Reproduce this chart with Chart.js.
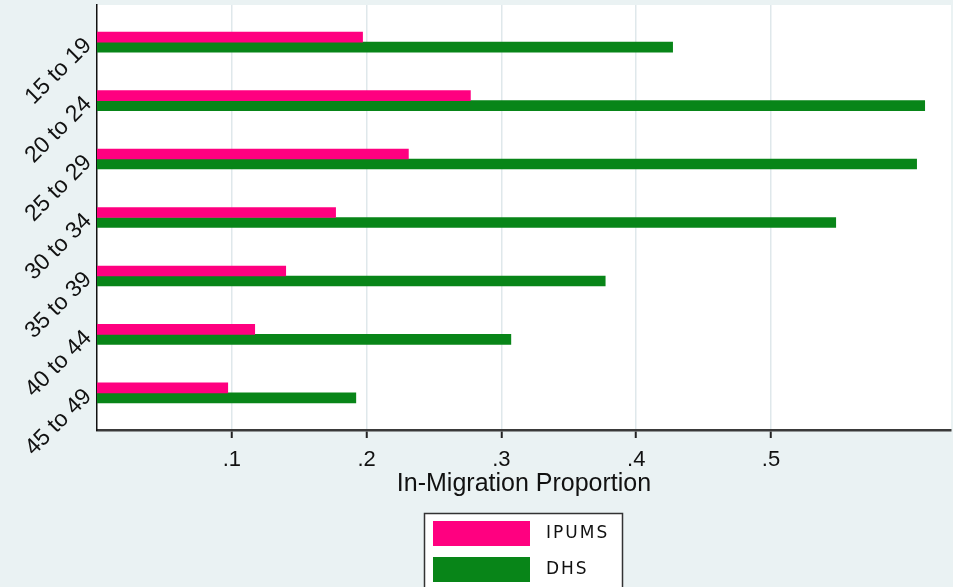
<!DOCTYPE html>
<html>
<head>
<meta charset="utf-8">
<script src="https://cdn.jsdelivr.net/npm/chart.js@4/dist/chart.umd.min.js"></script>
<style>
  html, body { margin: 0; padding: 0; background: #eaf2f3; }
  #wrap { width: 953px; height: 587px; }
</style>
</head>
<body>
<div id="wrap"><canvas id="c" width="953" height="587"></canvas></div>
<script>
// Age groups (top to bottom)
const ageGroups = ['15 to 19', '20 to 24', '25 to 29', '30 to 34', '35 to 39', '40 to 44', '45 to 49'];
// In-migration proportion by source
const ipums = [0.197, 0.277, 0.231, 0.177, 0.140, 0.117, 0.097];
const dhs   = [0.427, 0.614, 0.608, 0.548, 0.377, 0.307, 0.192];
// Axis ticks
const xTicks = [0.1, 0.2, 0.3, 0.4, 0.5];
const xTickLabels = ['.1', '.2', '.3', '.4', '.5'];

const BG = '#eaf2f3';
const PINK = '#ff0080';
const GREEN = '#088518';

const toPoints = vals => vals.map((v, i) => ({ x: v, y: i }));

// Page background and white plot region
const backdrop = {
  id: 'backdrop',
  beforeDraw(chart) {
    const { ctx, chartArea: a } = chart;
    ctx.save();
    ctx.fillStyle = BG;
    ctx.fillRect(0, 0, chart.width, chart.height);
    ctx.fillStyle = '#ffffff';
    ctx.fillRect(a.left, a.top, a.right - a.left, a.bottom - a.top);
    ctx.restore();
  }
};

// Boxed legend below the axis title, one row per series
const boxLegend = {
  id: 'boxLegend',
  afterDraw(chart) {
    const { ctx } = chart;
    const bx = 424.5, by = 513.5, bw = 198, bh = 90;
    ctx.save();
    ctx.fillStyle = '#ffffff';
    ctx.fillRect(bx, by, bw, bh);
    ctx.strokeStyle = '#333333';
    ctx.lineWidth = 1.5;
    ctx.strokeRect(bx, by, bw, bh);
    ctx.font = '17px "DejaVu Sans"';
    ctx.letterSpacing = '2px';
    ctx.textBaseline = 'middle';
    ctx.textAlign = 'left';
    chart.data.datasets.forEach((ds, i) => {
      const sy = 521 + i * 36;
      ctx.fillStyle = ds.backgroundColor;
      ctx.fillRect(433, sy, 97, 25);
      ctx.fillStyle = '#111111';
      ctx.fillText(ds.label, 546, sy + 13);
    });
    ctx.restore();
  }
};

const noPad = s => { s.paddingTop = 0; s.paddingBottom = 0; s.paddingLeft = 0; s.paddingRight = 0; };

new Chart(document.getElementById('c'), {
  type: 'bar',
  data: {
    datasets: [
      { label: 'IPUMS', data: toPoints(ipums), backgroundColor: PINK, barThickness: 10 },
      { label: 'DHS', data: toPoints(dhs), backgroundColor: GREEN, barThickness: 10 }
    ]
  },
  options: {
    indexAxis: 'y',
    responsive: false,
    animation: false,
    layout: { padding: { top: 5, right: 2, bottom: 87, left: 0 } },
    plugins: { legend: { display: false }, tooltip: { enabled: false } },
    scales: {
      x: {
        type: 'linear',
        min: 0,
        max: 0.6335,
        afterBuildTicks: s => { s.ticks = xTicks.map(v => ({ value: v })); },
        afterFit: s => { s.height = 70; noPad(s); },
        grid: { color: '#dfe8eb', lineWidth: 1.5, tickColor: '#222222', tickLength: 8, tickWidth: 2 },
        border: { display: true, color: '#3a3a3a', width: 2.5 },
        ticks: {
          color: '#111111',
          padding: 9,
          font: { family: '"Liberation Sans", Arial', size: 22 },
          callback: (v) => { const i = xTicks.indexOf(v); return i >= 0 ? xTickLabels[i] : ''; }
        },
        title: {
          display: true,
          text: 'In-Migration Proportion',
          color: '#111111',
          font: { family: '"Liberation Sans", Arial', size: 25 },
          padding: { top: 0, bottom: 1 }
        }
      },
      y: {
        type: 'linear',
        reverse: true,
        offset: false,
        min: -0.634,
        max: 6.634,
        afterBuildTicks: s => { s.ticks = ageGroups.map((_, i) => ({ value: i })); },
        afterFit: s => { s.width = 97; noPad(s); },
        grid: { display: false, drawTicks: false },
        border: { display: true, color: '#111111', width: 1.5 },
        ticks: {
          color: '#111111',
          padding: 9,
          minRotation: 45,
          maxRotation: 45,
          font: { family: '"Liberation Sans", Arial', size: 23 },
          callback: (v) => ageGroups[v] ?? ''
        }
      }
    }
  },
  plugins: [backdrop, boxLegend]
});
</script>
</body>
</html>
